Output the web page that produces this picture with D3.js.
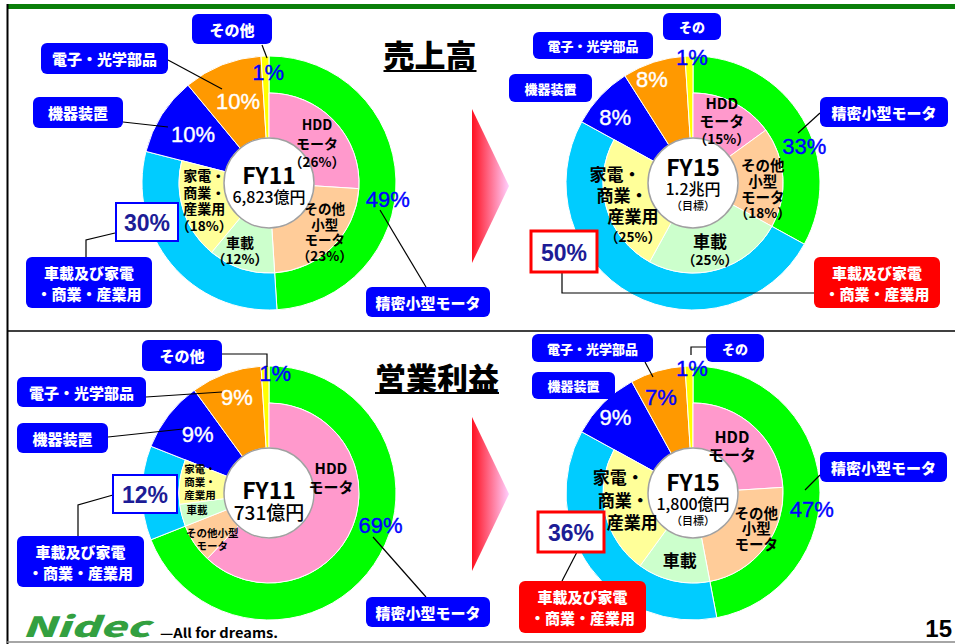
<!DOCTYPE html>
<html>
<head>
<meta charset="utf-8">
<script src="https://d3js.org/d3.v7.min.js"></script>
<style>
  body { margin: 0; background: #fff; }
  text { font-family: "Noto Sans CJK JP", sans-serif; }
  text.num { font-family: "Liberation Sans", Arial, sans-serif; }
</style>
</head>
<body>
<svg id="slide" width="955" height="644"></svg>
<script>
// ---- data ----
const outerCategories = ["精密小型モータ", "車載及び家電・商業・産業用", "機器装置", "電子・光学部品", "その他"];
const innerCategories = ["HDDモータ", "その他小型モータ", "車載", "家電・商業・産業用"];
const panelTitles = ["売上高", "営業利益"];
const chartYears = ["FY11", "FY15", "FY11", "FY15"];
const chartAmounts = ["6,823億円", "1.2兆円", "731億円", "1,800億円"];
const chartNotes = ["", "（目標）", "", "（目標）"];

const salesFY11Outer = [49, 30, 10, 10, 1];
const salesFY11Inner = [26, 23, 12, 18];
const salesFY15Outer = [33, 50, 8, 8, 1];
const salesFY15Inner = [15, 18, 25, 25];
const profitFY11Outer = [69, 12, 9, 9, 1];
const profitFY11Inner = [62, 7, 4, 8];   // not printed
const profitFY15Outer = [47, 36, 9, 7, 1];
const profitFY15Inner = [24, 23, 13, 23]; // not printed

const outerColors = ["#00ff00", "#00ccff", "#0000ff", "#ff9900", "#ffff00"];
const innerColors = ["#ff99cc", "#ffcc99", "#ccffcc", "#ffff99"];
const BLUE = "#0000ff", RED = "#ff0000", NAVY = "#1c1c96";

// ---- layout ----
const R0 = 45, R1 = 90, R2 = 127;

let charts = [
  { outer: salesFY11Outer, inner: salesFY11Inner, cx: 269, cy: 183, showPct: true,
    center: [[-9, 23], [13, 16]],
    outerLabels: [ {i:0,t:.556,r:120,c:BLUE}, {i:2,t:.497,r:90,c:"#fff"}, {i:3,t:.52,r:87,c:"#fff"}, {i:4,t:.86,r:111,c:BLUE} ],
    innerLabels: [
      {lines:["HDD","モータ"], t:.536, r:62.5, fs:14, lh:18.5},
      {lines:["その他","小型","モータ"], t:.454, r:74, fs:13.5, lh:15.5},
      {lines:["車載"], t:.625, r:73, fs:14, lh:16},
      {lines:["家電・","商業・","産業用"], t:.551, r:67, fs:14, lh:16.5}
    ],
    boxes: [
      {x:192,y:14,w:80,h:30,lines:["その他"],fs:15},
      {x:41,y:43,w:127,h:31,lines:["電子・光学部品"],fs:15},
      {x:33,y:97,w:90,h:31,lines:["機器装置"],fs:15},
      {x:26,y:257,w:126,h:51,lines:["車載及び家電","・商業・産業用"],fs:15},
      {x:366,y:287,w:124,h:30,lines:["精密小型モータ"],fs:15}
    ],
    pctBox: {x:116,y:203,w:62,h:38,stroke:BLUE,sw:2},
    leaders: [ [[262,45],[267,58]], [[168,60],[222,89]], [[123,122],[168,127]],
               [[115,233],[86,240],[86,257]], [[380,210],[426,287]] ] },

  { outer: salesFY15Outer, inner: salesFY15Inner, cx: 693, cy: 183, showPct: true,
    center: [[-17, 23], [5, 16], [22, 11]],
    outerLabels: [ {i:0,t:.606,r:117,c:BLUE}, {i:2,t:.396,r:102,c:"#fff"}, {i:3,t:.37,r:111,c:"#fff"}, {i:4,t:.86,r:126,c:BLUE} ],
    innerLabels: [
      {lines:["HDD","モータ"], t:.457, r:69, fs:15, lh:17.5},
      {lines:["その他","小型","モータ"], t:.619, r:70, fs:14.5, lh:16},
      {lines:["車載"], t:.522, r:69, fs:17, lh:18},
      {lines:["家電・","商業・","産業用"], t:.478, r:70.5, fs:17, lh:21, indent:[-11,-4,7,7]}
    ],
    boxes: [
      {x:663,y:13,w:58,h:27,lines:["その","他"],fs:13,clip:true,lh:20},
      {x:533,y:32,w:120,h:27,lines:["電子・光学部品"],fs:13},
      {x:509,y:74,w:83,h:28,lines:["機器装置"],fs:13},
      {x:820,y:97,w:128,h:30,lines:["精密小型モータ"],fs:15},
      {x:814,y:257,w:126,h:51,lines:["車載及び家電","・商業・産業用"],fs:15,fill:RED}
    ],
    pctBox: {x:531,y:231,w:66,h:41,stroke:RED,sw:3},
    leaders: [ [[820,113],[798,133]], [[562,272],[562,293],[814,293]] ] },

  { outer: profitFY11Outer, inner: profitFY11Inner, cx: 269, cy: 493, showPct: false,
    center: [[-4, 23], [18, 19]],
    outerLabels: [ {i:0,t:.427,r:116,c:BLUE}, {i:2,t:.54,r:92,c:"#fff"}, {i:3,t:.54,r:101,c:"#fff"}, {i:4,t:1.8,r:120,c:BLUE} ],
    innerLabels: [
      {lines:["HDD","モータ"], t:.338, r:64, fs:15, lh:19},
      {lines:["その他小型","モータ"], t:.314, r:73, fs:10.5, lh:12.5},
      {lines:["車載"], t:.58, r:74, fs:10.5, lh:12},
      {lines:["家電・","商業・","産業用"], t:.59, r:70, fs:10.5, lh:13}
    ],
    boxes: [
      {x:142,y:340,w:80,h:31,lines:["その他"],fs:15},
      {x:17,y:377,w:129,h:30,lines:["電子・光学部品"],fs:15},
      {x:17,y:423,w:91,h:30,lines:["機器装置"],fs:15},
      {x:17,y:536,w:127,h:51,lines:["車載及び家電","・商業・産業用"],fs:15},
      {x:366,y:597,w:124,h:30,lines:["精密小型モータ"],fs:15}
    ],
    pctBox: {x:113,y:475,w:64,h:38,stroke:BLUE,sw:2},
    leaders: [ [[222,354],[267,354],[267,367]], [[146,397],[222,392]], [[108,437],[183,429]],
               [[113,495],[78,505],[78,536]], [[373,537],[426,597]] ] },

  { outer: profitFY15Outer, inner: profitFY15Inner, cx: 693, cy: 493, showPct: false,
    center: [[-12, 23], [10, 16], [27, 11]],
    outerLabels: [ {i:0,t:.58,r:120,c:BLUE}, {i:2,t:.47,r:108,c:"#fff"}, {i:3,t:.41,r:101,c:BLUE}, {i:4,t:.86,r:125,c:BLUE} ],
    innerLabels: [
      {lines:["HDD","モータ"], t:.45, r:62, fs:16, lh:18.5},
      {lines:["その他","小型","モータ"], t:.39, r:72, fs:14.5, lh:15.5},
      {lines:["車載"], t:.47, r:68, fs:17, lh:18},
      {lines:["家電・","商業・","産業用"], t:.59, r:69, fs:17, lh:22.5, indent:[-6,-1,8]}
    ],
    boxes: [
      {x:706,y:334,w:58,h:28,lines:["その","他"],fs:13,clip:true,lh:20},
      {x:532,y:334,w:121,h:28,lines:["電子・光学部品"],fs:13},
      {x:532,y:372,w:83,h:27,lines:["機器装置"],fs:13},
      {x:820,y:452,w:127,h:30,lines:["精密小型モータ"],fs:15},
      {x:519,y:581,w:127,h:52,lines:["車載及び家電","・商業・産業用"],fs:15,fill:RED}
    ],
    pctBox: {x:538,y:512,w:66,h:40,stroke:RED,sw:3},
    leaders: [ [[645,362],[653,377]], [[706,347],[691,347],[691,355]], [[820,475],[805,490]],
               [[577,552],[562,581]] ] }
];

const svg = d3.select("#slide");
const defs = svg.append("defs");

// frame
svg.append("rect").attr("x", 7).attr("y", 4).attr("width", 948).attr("height", 5).attr("fill", "#0a7f0a");
svg.append("line").attr("x1", 7.5).attr("x2", 7.5).attr("y1", 4).attr("y2", 644).attr("stroke", "#000").attr("stroke-width", 2);
svg.append("line").attr("x1", 7).attr("x2", 955).attr("y1", 331).attr("y2", 331).attr("stroke", "#000").attr("stroke-width", 1.5);
svg.append("line").attr("x1", 7).attr("x2", 955).attr("y1", 642).attr("y2", 642).attr("stroke", "#888").attr("stroke-width", 1.5);

// arrows
let grad = defs.append("linearGradient").attr("id", "arrowGrad");
grad.append("stop").attr("offset", "0%").attr("stop-color", "#ff1020");
grad.append("stop").attr("offset", "100%").attr("stop-color", "#ffd0ff");
[[109, 186, 263], [417, 494, 571]].forEach(a => {
  svg.append("polygon")
    .attr("points", `472,${a[0]} 509,${a[1]} 472,${a[2]}`)
    .attr("fill", "url(#arrowGrad)");
});

// titles
[[430, 67, 71], [437, 390, 393]].forEach((p, i) => {
  svg.append("text").attr("x", p[0]).attr("y", p[1])
    .attr("text-anchor", "middle").attr("font-size", 31).attr("font-weight", 900)
    .text(panelTitles[i]);
  let w = panelTitles[i].length * 31;
  svg.append("line").attr("x1", p[0] - w / 2).attr("x2", p[0] + w / 2)
    .attr("y1", p[2]).attr("y2", p[2]).attr("stroke", "#000").attr("stroke-width", 2);
});

const arc = d3.arc();
const pie = d3.pie().sort(null).value(d => d);

function polar(d, t, r) {
  let a = d.startAngle + t * (d.endAngle - d.startAngle);
  return [r * Math.sin(a), -r * Math.cos(a)];
}

function textBlock(g, x, y, lines, fs, lh, opts) {
  opts = opts || {};
  lines.forEach((s, k) => {
    g.append("text")
      .attr("x", x + (opts.indent ? opts.indent[k] || 0 : 0))
      .attr("y", y + (k - (lines.length - 1) / 2) * lh)
      .attr("text-anchor", "middle")
      .attr("dominant-baseline", "central")
      .attr("font-size", opts.sizes ? opts.sizes[k] : fs)
      .attr("font-weight", opts.weight || 700)
      .attr("fill", opts.fill || "#000")
      .text(s);
  });
}

charts.forEach((c, ci) => {
  let g = svg.append("g").attr("transform", `translate(${c.cx},${c.cy})`);
  let outerArcs = pie(c.outer);
  let innerArcs = d3.pie().sort(null).value(d => d)
    .endAngle(2 * Math.PI * d3.sum(c.inner) / d3.sum(c.outer))(c.inner);

  g.selectAll("path.outer").data(outerArcs).join("path")
    .attr("class", "outer")
    .attr("d", d => arc({ ...d, innerRadius: d.index < 2 ? R1 : R0, outerRadius: R2 }))
    .attr("fill", (d, i) => outerColors[i])
    .attr("stroke", "#fff").attr("stroke-width", 1);

  g.selectAll("path.inner").data(innerArcs).join("path")
    .attr("class", "inner")
    .attr("d", d => arc({ ...d, innerRadius: R0, outerRadius: R1 }))
    .attr("fill", (d, i) => innerColors[i])
    .attr("stroke", "#fff").attr("stroke-width", 1);

  g.append("circle").attr("r", R0).attr("fill", "#fff")
    .attr("stroke", "#a0a0a0").attr("stroke-width", 1.5);

  // inner labels
  c.innerLabels.forEach((L, i) => {
    let p = polar(innerArcs[i], L.t, L.r);
    let lines = L.lines.slice();
    let sizes = lines.map(() => L.fs);
    if (c.showPct) { lines.push(`（${c.inner[i]}%）`); sizes.push(Math.min(L.fs, 13.5)); }
    textBlock(g, p[0], p[1], lines, L.fs, L.lh, { indent: L.indent, sizes: sizes, weight: 700 });
  });

  // centre
  let cLines = [chartYears[ci], chartAmounts[ci]];
  if (chartNotes[ci]) cLines.push(chartNotes[ci]);
  cLines.forEach((s, k) => {
    g.append("text").attr("x", 0).attr("y", c.center[k][0])
      .attr("text-anchor", "middle").attr("dominant-baseline", "central")
      .attr("font-size", c.center[k][1]).attr("font-weight", k == 0 ? 700 : 500)
      .text(s);
  });

  // leader lines
  c.leaders.forEach(pts => {
    svg.append("path").attr("d", d3.line()(pts))
      .attr("fill", "none").attr("stroke", "#000").attr("stroke-width", 1.2);
  });

  // outer percentages
  c.outerLabels.forEach(L => {
    let p = polar(outerArcs[L.i], L.t, L.r);
    g.append("text").attr("class", "num")
      .attr("x", p[0]).attr("y", p[1])
      .attr("text-anchor", "middle").attr("dominant-baseline", "central")
      .attr("font-size", 22).attr("fill", L.c)
      .attr("stroke", L.c).attr("stroke-width", 0.4)
      .text(`${c.outer[L.i]}%`);
  });

  // category boxes
  c.boxes.forEach((b, bi) => {
    let bg = svg.append("g");
    bg.append("rect").attr("x", b.x).attr("y", b.y).attr("width", b.w).attr("height", b.h)
      .attr("rx", 6).attr("fill", b.fill || BLUE);
    let tg = bg.append("g");
    if (b.clip) {
      let id = `clip${ci}_${bi}`;
      defs.append("clipPath").attr("id", id).append("rect")
        .attr("x", b.x).attr("y", b.y).attr("width", b.w).attr("height", b.h + 2);
      tg.attr("clip-path", `url(#${id})`);
      textBlock(tg, b.x + b.w / 2, b.y + b.h / 2 + (b.lh / 2), b.lines, b.fs, b.lh, { fill: "#fff", weight: 900 });
    } else {
      textBlock(tg, b.x + b.w / 2, b.y + b.h / 2, b.lines, b.fs, b.fs + 6, { fill: "#fff", weight: 900 });
    }
  });

  // percentage box for 車載及び家電・商業・産業用
  let pb = c.pctBox;
  svg.append("rect").attr("x", pb.x).attr("y", pb.y).attr("width", pb.w).attr("height", pb.h)
    .attr("fill", "#fff").attr("stroke", pb.stroke).attr("stroke-width", pb.sw);
  svg.append("text").attr("class", "num")
    .attr("x", pb.x + pb.w / 2).attr("y", pb.y + pb.h / 2 + 1)
    .attr("text-anchor", "middle").attr("dominant-baseline", "central")
    .attr("font-size", 23).attr("font-weight", 700).attr("fill", NAVY)
    .text(`${c.outer[1]}%`);
});

// logo and page number
svg.append("text").attr("x", 22).attr("y", 637)
  .attr("font-family", "Liberation Sans, Arial, sans-serif")
  .attr("font-size", 28).attr("font-weight", 900).attr("font-style", "italic")
  .attr("fill", "#33a040").attr("textLength", 128).attr("lengthAdjust", "spacingAndGlyphs")
  .text("Nidec");
svg.append("text").attr("x", 160).attr("y", 638)
  .attr("font-family", "Liberation Sans, Arial, sans-serif")
  .attr("font-size", 13).attr("font-weight", 700)
  .attr("textLength", 118).attr("lengthAdjust", "spacingAndGlyphs")
  .text("—All for dreams.");
svg.append("text").attr("class", "num").attr("x", 952).attr("y", 637)
  .attr("text-anchor", "end").attr("font-size", 24).attr("font-weight", 700)
  .text("15");
</script>
</body>
</html>
